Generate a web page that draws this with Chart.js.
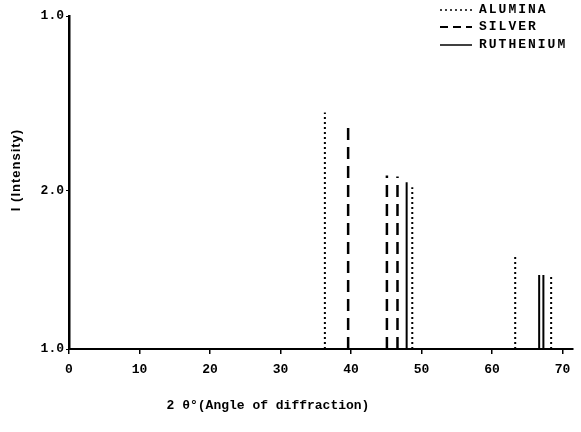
<!DOCTYPE html>
<html><head><meta charset="utf-8">
<script src="https://cdn.jsdelivr.net/npm/chart.js@4/dist/chart.umd.min.js"></script>
<style>html,body{margin:0;padding:0;background:#fff}#wrap{width:581px;height:432px}</style>
</head><body><div id="wrap"><canvas id="c" width="581" height="432"></canvas></div>
<script>
const seriesNames = ['ALUMINA', 'SILVER', 'RUTHENIUM'];
const aluminaPos = [36.3, 48.7, 63.3, 68.4];
const aluminaInt = [71.0, 48.6, 28.1, 22.2];
const silverPos = [39.6, 45.1, 46.6];
const silverInt = [66.6, 52.1, 51.8];
const rutheniumPos = [47.9, 66.7, 67.3];
const rutheniumInt = [50.1, 22.2, 22.2];
const xTicks = [0, 10, 20, 30, 40, 50, 60, 70];
const yTickValues = [0, 47.6, 100];
const yTickLabels = ['1.0', '2.0', '1.0'];
const xTitle = '2 \u03b8\u00b0(Angle of diffraction)';
const yTitle = 'I (Intensity)';

function sticks(pos, h) {
  const out = [];
  pos.forEach((p, i) => { out.push({x: p, y: 0}, {x: p, y: h[i]}, {x: p, y: null}); });
  return out;
}
const FONT = '"Liberation Mono", "DejaVu Sans Mono", monospace';
const styles = [
  {borderDash: [2, 3], borderWidth: 2},
  {borderDash: [12, 7], borderWidth: 2.5},
  {borderDash: [], borderWidth: 2}
];
const datasets = [
  {label: seriesNames[0], data: sticks(aluminaPos, aluminaInt)},
  {label: seriesNames[1], data: sticks(silverPos, silverInt)},
  {label: seriesNames[2], data: sticks(rutheniumPos, rutheniumInt)}
].map((d, i) => Object.assign(d, {
  showLine: true, spanGaps: false, pointRadius: 0, borderColor: '#000',
  borderCapStyle: 'butt'
}, styles[i]));

const textPlugin = {
  id: 'texts',
  afterDraw(chart) {
    const ctx = chart.ctx, a = chart.chartArea;
    ctx.save();
    ctx.fillStyle = '#000';
    ctx.font = 'bold 13px ' + FONT;
    ctx.textAlign = 'center'; ctx.textBaseline = 'middle';
    ctx.fillText(xTitle, a.left + 199, a.bottom + 57);
    ctx.save();
    ctx.font = 'bold 13px "Liberation Sans", Arial, sans-serif';
    ctx.letterSpacing = '1px';
    ctx.translate(16, a.top + 154);
    ctx.rotate(-Math.PI / 2);
    ctx.fillText(yTitle, 0, 0);
    ctx.restore();
    // legend
    const ly = [10, 27, 45];
    ctx.letterSpacing = '2px';
    chart.data.datasets.forEach((ds, i) => {
      ctx.beginPath();
      ctx.lineWidth = i === 1 ? 2 : 1.5;
      ctx.setLineDash(i === 0 ? [2, 3] : (i === 1 ? [8, 5] : []));
      ctx.moveTo(a.right - 133, ly[i]);
      ctx.lineTo(a.right - 101, ly[i]);
      ctx.stroke();
      ctx.setLineDash([]);
      ctx.textAlign = 'left';
      ctx.fillText(ds.label, a.right - 94, ly[i]);
    });
    ctx.restore();
  }
};

new Chart(document.getElementById('c'), {
  type: 'scatter',
  data: {datasets},
  plugins: [textPlugin],
  options: {
    responsive: false, animation: false,
    layout: {padding: {left: 0, right: 8, top: 16, bottom: 0}},
    plugins: {legend: {display: false}, tooltip: {enabled: false}},
    scales: {
      x: {
        type: 'linear', min: 0, max: 71.5,
        afterBuildTicks: s => { s.ticks = xTicks.map(v => ({value: v})); },
        afterFit: s => { s.height = 83; },
        grid: {drawOnChartArea: false, drawTicks: true, tickLength: 5, color: '#000', lineWidth: 1.5},
        border: {display: true, color: '#000', width: 2},
        ticks: {color: '#000', font: {family: FONT, size: 13, weight: 'bold'}, padding: 8, maxRotation: 0}
      },
      y: {
        type: 'linear', min: 0, max: 100,
        afterBuildTicks: s => { s.ticks = yTickValues.map(v => ({value: v})); },
        afterFit: s => { s.width = 69; },
        grid: {drawOnChartArea: false, drawTicks: true, tickLength: 3, color: '#000', lineWidth: 1},
        border: {display: true, color: '#000', width: 2.5},
        ticks: {color: '#000', font: {family: FONT, size: 13, weight: 'bold'}, padding: 2,
          callback: (v, i) => yTickLabels[i]}
      }
    }
  }
});
</script></body></html>
